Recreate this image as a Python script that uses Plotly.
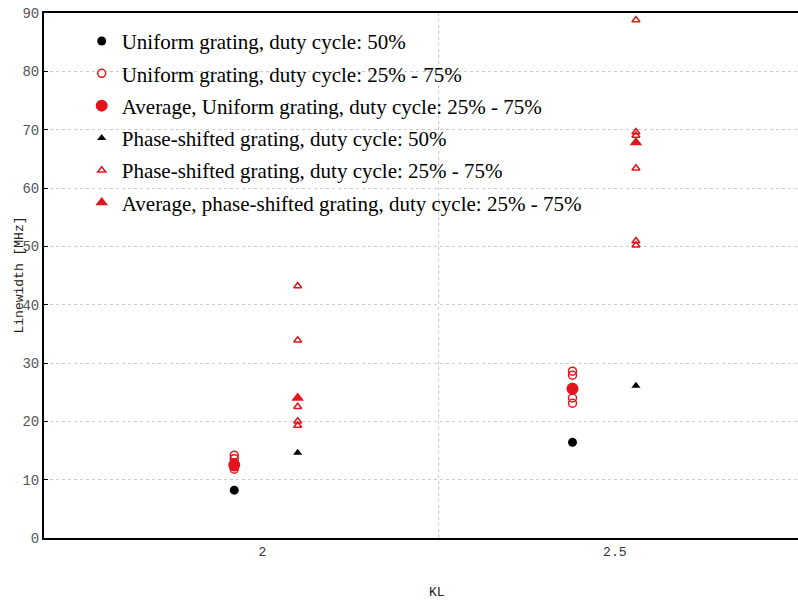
import plotly.graph_objects as go

# Uniform grating (circles) at KL ~ 1.96 and 2.44; phase-shifted (triangles) at ~2.05 and 2.53
uni50_x = [1.96, 2.44]
uni50_y = [8.2, 16.4]

uni_var_x = [1.96, 1.96, 1.96, 1.96, 1.96, 2.44, 2.44, 2.44, 2.44, 2.44]
uni_var_y = [14.2, 13.6, 12.9, 12.2, 11.8, 28.6, 27.9, 25.8, 24.0, 23.1]

uni_avg_x = [1.96, 2.44]
uni_avg_y = [12.5, 25.6]

ps50_x = [2.05, 2.53]
ps50_y = [14.6, 26.1]

ps_var_x = [2.05, 2.05, 2.05, 2.05, 2.05, 2.53, 2.53, 2.53, 2.53, 2.53, 2.53]
ps_var_y = [43.2, 33.9, 22.5, 20.0, 19.3, 88.8, 69.6, 69.0, 63.4, 50.9, 50.2]

ps_avg_x = [2.05, 2.53]
ps_avg_y = [24.0, 67.8]

names = [
    "Uniform grating, duty cycle: 50%",
    "Uniform grating, duty cycle: 25% - 75%",
    "Average, Uniform grating, duty cycle: 25% - 75%",
    "Phase-shifted grating, duty cycle: 50%",
    "Phase-shifted grating, duty cycle: 25% - 75%",
    "Average, phase-shifted grating, duty cycle: 25% - 75%",
]

RED = "#e3141b"
fig = go.Figure()
fig.add_trace(go.Scatter(x=uni50_x, y=uni50_y, mode="markers", name=names[0], legendgroup="a",
                         marker=dict(symbol="circle", size=9, color="black")))
fig.add_trace(go.Scatter(x=uni_var_x, y=uni_var_y, mode="markers", name=names[1], legendgroup="b",
                         marker=dict(symbol="circle-open", size=8, color=RED, line=dict(width=1.5))))
fig.add_trace(go.Scatter(x=uni_avg_x, y=uni_avg_y, mode="markers", name=names[2], legendgroup="c",
                         marker=dict(symbol="circle", size=12, color=RED)))
fig.add_trace(go.Scatter(x=ps50_x, y=ps50_y, mode="markers", name=names[3], legendgroup="d",
                         marker=dict(symbol="triangle-up", size=8, color="black")))
fig.add_trace(go.Scatter(x=ps_var_x, y=ps_var_y, mode="markers", name=names[4], legendgroup="e",
                         marker=dict(symbol="triangle-up-open", size=7, color=RED, line=dict(width=1.5))))
fig.add_trace(go.Scatter(x=ps_avg_x, y=ps_avg_y, mode="markers", name=names[5], legendgroup="f",
                         marker=dict(symbol="triangle-up", size=11, color=RED)))

fig.update_layout(
    width=798, height=609,
    margin=dict(l=44, r=0, t=13, b=71),
    plot_bgcolor="white", paper_bgcolor="white",
    showlegend=True,
    legend=dict(x=0.05, y=0.985, xanchor="left", yanchor="top",
                font=dict(family="Liberation Serif", size=21, color="black"),
                bgcolor="rgba(255,255,255,0)", tracegroupgap=2, traceorder="grouped"),
    xaxis=dict(range=[1.69, 2.76], tickvals=[2, 2.5], ticktext=["2", "2.5"],
               showgrid=False, zeroline=False, showline=True, linecolor="black", linewidth=2,
               mirror=True, ticks="", tickfont=dict(family="Liberation Mono", size=13, color="#333")),
    yaxis=dict(range=[0, 90], tickvals=list(range(0, 91, 10)),
               showgrid=True, gridcolor="#cccccc", griddash="dot", gridwidth=1,
               zeroline=False, showline=True, linecolor="black", linewidth=2,
               ticks="inside", ticklen=4, tickcolor="black",
               tickfont=dict(family="Liberation Mono", size=14, color="#555")),
)
fig.add_vline(x=2.25, line=dict(color="#cccccc", width=1, dash="dot"), layer="below")
fig.add_annotation(text="KL", xref="paper", yref="paper", x=(437 - 44) / 754, y=(538 - 592) / 525,
                   showarrow=False, yanchor="middle",
                   font=dict(family="Liberation Mono", size=13, color="#222"))
fig.add_annotation(text="Linewidth [MHz]", xref="paper", yref="paper", x=(19 - 44) / 754, y=0.5,
                   showarrow=False, textangle=-90, xanchor="center", yanchor="middle",
                   font=dict(family="Liberation Mono", size=13, color="#222"))

fig.write_html("out.html")
